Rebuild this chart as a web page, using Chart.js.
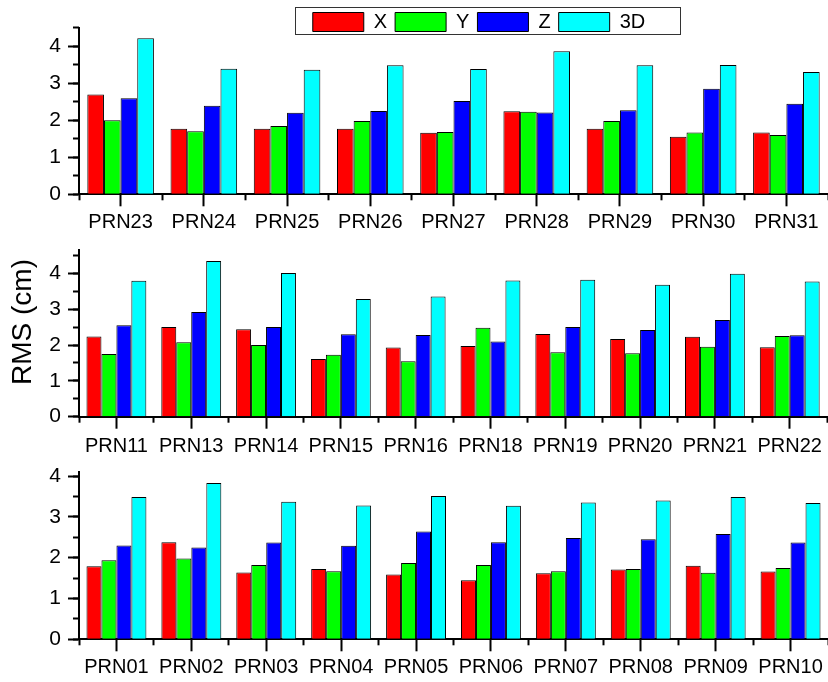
<!DOCTYPE html>
<html>
<head>
<meta charset="utf-8">
<script src="https://cdn.jsdelivr.net/npm/chart.js@4.4.0/dist/chart.umd.min.js"></script>
<style>
  html, body { margin: 0; padding: 0; background: #fff; }
  body { width: 828px; height: 682px; position: relative; overflow: hidden; }
  canvas { position: absolute; left: 0; }
  #legendBox { position: absolute; left: 295px; top: 7px; width: 384px; height: 26px; border: 1px solid #333; }
</style>
</head>
<body>
<div id="legendBox"></div>
<canvas id="chart1" width="828" height="240" style="top:0px"></canvas>
<canvas id="chart2" width="828" height="235" style="top:225px"></canvas>
<canvas id="chart3" width="828" height="232" style="top:450px"></canvas>
<canvas id="legendChart" width="360" height="80" style="left:299px;top:4px"></canvas>
<script>
const seriesNames = ['X', 'Y', 'Z', '3D'];
const seriesColors = ['#ff0000', '#00ff00', '#0000ff', '#00ffff'];

// panneau du haut
const prnTop = ['PRN23', 'PRN24', 'PRN25', 'PRN26', 'PRN27', 'PRN28', 'PRN29', 'PRN30', 'PRN31'];
const xTop  = [2.69, 1.77, 1.77, 1.77, 1.66, 2.24, 1.77, 1.55, 1.67];
const yTop  = [2.00, 1.70, 1.84, 1.98, 1.68, 2.23, 1.98, 1.67, 1.60];
const zTop  = [2.59, 2.39, 2.20, 2.25, 2.52, 2.21, 2.27, 2.85, 2.44];
const d3Top = [4.21, 3.39, 3.36, 3.48, 3.38, 3.86, 3.48, 3.49, 3.30];

// panneau du milieu
const prnMid = ['PRN11', 'PRN13', 'PRN14', 'PRN15', 'PRN16', 'PRN18', 'PRN19', 'PRN20', 'PRN21', 'PRN22'];
const xMid  = [2.24, 2.50, 2.44, 1.61, 1.93, 1.97, 2.31, 2.17, 2.23, 1.94];
const yMid  = [1.75, 2.08, 2.00, 1.73, 1.55, 2.48, 1.80, 1.77, 1.95, 2.25];
const zMid  = [2.55, 2.92, 2.50, 2.30, 2.28, 2.10, 2.50, 2.42, 2.70, 2.27];
const d3Mid = [3.79, 4.34, 4.01, 3.28, 3.35, 3.80, 3.82, 3.68, 3.99, 3.77];

// panneau du bas
const prnBot = ['PRN01', 'PRN02', 'PRN03', 'PRN04', 'PRN05', 'PRN06', 'PRN07', 'PRN08', 'PRN09', 'PRN10'];
const xBot  = [1.79, 2.38, 1.64, 1.72, 1.59, 1.45, 1.62, 1.71, 1.80, 1.66];
const yBot  = [1.94, 1.98, 1.82, 1.67, 1.87, 1.82, 1.67, 1.72, 1.63, 1.75];
const zBot  = [2.30, 2.25, 2.37, 2.29, 2.64, 2.38, 2.48, 2.45, 2.58, 2.37];
const d3Bot = [3.49, 3.83, 3.37, 3.28, 3.51, 3.27, 3.35, 3.40, 3.49, 3.34];

const yMaxTop = 4.5;
const yMaxMid = 4.65;
const yMaxBot = 4.1;

const yAxisTitle = 'RMS (cm)';

Chart.defaults.font.family = '"Liberation Sans", Arial, sans-serif';
Chart.defaults.color = '#000';
Chart.defaults.animation = false;

// titre vertical commun, centré sur la hauteur de la figure
const yTitlePlugin = {
    id: 'yTitle',
    afterDraw(chart, args, opts) {
        if (!opts.text) return;
        const ctx = chart.ctx;
        ctx.save();
        ctx.translate(opts.x, opts.y);
        ctx.rotate(-Math.PI / 2);
        ctx.font = '28px "Liberation Sans", Arial, sans-serif';
        ctx.fillStyle = '#000';
        ctx.textAlign = 'center';
        ctx.textBaseline = 'middle';
        ctx.fillText(opts.text, 0, 0);
        ctx.restore();
    }
};

function buildDatasets(values) {
    return seriesNames.map((name, i) => ({
        label: name,
        data: values[i],
        backgroundColor: seriesColors[i],
        borderColor: '#000',
        borderWidth: 1,
        categoryPercentage: 0.8,
        barPercentage: 1.0
    }));
}

function makePanel(id, labels, values, yMax, padTop, xHeight, labelPad, title) {
    const ctx = document.getElementById(id).getContext('2d');
    new Chart(ctx, {
        type: 'bar',
        data: { labels: labels, datasets: buildDatasets(values) },
        plugins: [yTitlePlugin],
        options: {
            responsive: false,
            layout: { padding: { top: padTop, left: 0, right: 0, bottom: 0 } },
            plugins: {
                legend: { display: false },
                tooltip: { enabled: false },
                yTitle: title || {}
            },
            scales: {
                x: {
                    type: 'category', position: 'bottom', weight: 1, offset: true,
                    grid: { offset: false, drawOnChartArea: false, tickLength: 12, tickWidth: 2, tickColor: '#000' },
                    border: { color: '#000', width: 2 },
                    ticks: { font: { size: 20 }, padding: labelPad, maxRotation: 0, autoSkip: false },
                    afterFit: s => { s.height = xHeight; }
                },
                xMinor: {
                    type: 'category', position: 'bottom', weight: 0, offset: true,
                    grid: { offset: true, drawOnChartArea: false, tickLength: 6, tickWidth: 2, tickColor: '#000' },
                    border: { display: false },
                    ticks: { display: false },
                    afterFit: s => { s.height = 0; }
                },
                y: {
                    type: 'linear', position: 'left', weight: 1, min: 0, max: yMax,
                    grid: { drawOnChartArea: false, tickLength: 11, tickWidth: 2, tickColor: '#000' },
                    border: { color: '#000', width: 2 },
                    ticks: { stepSize: 1, includeBounds: false, font: { size: 21 }, padding: 7 },
                    afterFit: s => { s.width = 79; }
                },
                yMinor: {
                    type: 'linear', position: 'left', weight: 0, min: 0, max: yMax,
                    grid: { drawOnChartArea: false, tickLength: 6, tickWidth: 2, tickColor: '#000' },
                    border: { display: false },
                    ticks: { stepSize: 0.5, includeBounds: false, display: false },
                    afterFit: s => { s.width = 0; }
                }
            }
        }
    });
}

makePanel('chart1', prnTop, [xTop, yTop, zTop, d3Top], yMaxTop, 27.5, 45.7, 4, null);
makePanel('chart2', prnMid, [xMid, yMid, zMid, d3Mid], yMaxMid, 25, 43.3, 6, { text: yAxisTitle, x: 23, y: 97 });
makePanel('chart3', prnBot, [xBot, yBot, zBot, d3Bot], yMaxBot, 22, 42.7, 4, null);

// Légende seule, dans son cadre
new Chart(document.getElementById('legendChart').getContext('2d'), {
    type: 'bar',
    data: {
        labels: [],
        datasets: seriesNames.map((name, i) => ({
            label: name, data: [], backgroundColor: seriesColors[i], borderColor: '#000', borderWidth: 1
        }))
    },
    options: {
        responsive: false,
        layout: { padding: 0 },
        scales: { x: { display: false }, y: { display: false } },
        plugins: {
            tooltip: { enabled: false },
            legend: {
                position: 'top',
                labels: { boxWidth: 51, boxHeight: 19, padding: 8, font: { size: 20 }, color: '#000' }
            }
        }
    }
});
</script>
</body>
</html>
